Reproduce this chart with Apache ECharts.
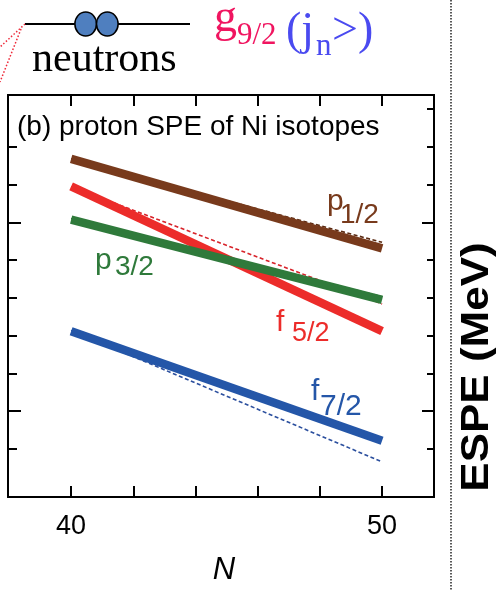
<!DOCTYPE html>
<html><head><meta charset="utf-8">
<script src="https://cdn.jsdelivr.net/npm/echarts@6/dist/echarts.min.js"></script>
<style>html,body{margin:0;padding:0;background:#fff;overflow:hidden}#c{width:499px;height:591px}</style>
</head><body><div id="c"></div>
<script>
// ---- data (neutron number N vs proton ESPE in MeV) ----
const N = [40, 50];
const p12 = [-3.32, -5.69];
const p12Dash = [-3.32, -5.53];
const f52 = [-4.05, -7.88];
const f52Dash = [-4.06, -7.16];
const p32 = [-4.93, -7.05];
const p32Dash = [-4.90, -6.97];
const f72 = [-7.88, -10.78];
const f72Dash = [-7.86, -11.34];
const xTicks = [40, 42, 44, 46, 48, 50];
const xLabels = [40, 50];
const yMinorLeft = [-3, -4, -6, -7, -8, -9, -11];
const yMinorRight = [-2, -3, -4, -6, -7, -8, -9, -11];
const yMajor = [-5, -10];

const SANS = '"Liberation Sans", Arial, Helvetica, sans-serif';
const SERIF = '"Liberation Serif", "Times New Roman", serif';
const X_MIN = 37.97, X_MAX = 51.67, Y_MIN = -12.27, Y_MAX = -1.63;

const pairs = (ys) => N.map((n, i) => [n, ys[i]]);

function yAxisCfg(pos, len, vals) {
  return {
    type: 'value', position: pos, min: Y_MIN, max: Y_MAX,
    axisLine: { show: true, lineStyle: { color: '#000', width: 2 } },
    axisTick: { show: true, inside: true, length: len, lineStyle: { color: '#000', width: 2 }, customValues: vals },
    axisLabel: { show: false }, splitLine: { show: false }
  };
}

const chart = echarts.init(document.getElementById('c'), null, { renderer: 'canvas' });

function solid(name, ys, color) {
  return { name, type: 'line', data: pairs(ys), symbol: 'none', animation: false,
    lineStyle: { color, width: 8.5, cap: 'butt' }, z: 3 };
}
function dashed(name, ys, color) {
  return { name, type: 'line', data: pairs(ys), symbol: 'none', animation: false,
    lineStyle: { color, width: 1.6, type: [4, 2.5] }, z: 2 };
}

function txt(x, base, s, size, color, family, extra) {
  return Object.assign({
    type: 'text', x: x, y: base - 0.35 * size, z: 10,
    style: { text: s, fill: color, font: size + 'px ' + family, align: 'left', verticalAlign: 'middle' }
  }, extra || {});
}

const option = {
  animation: false,
  backgroundColor: '#fff',
  grid: { left: 8, right: 65, top: 95, bottom: 93, containLabel: false },
  xAxis: [
    { type: 'value', position: 'bottom', min: X_MIN, max: X_MAX,
      axisLine: { show: true, lineStyle: { color: '#000', width: 2 } },
      axisTick: { show: true, inside: true, length: 11, lineStyle: { color: '#000', width: 2 }, customValues: xTicks },
      axisLabel: { show: true, customValues: xLabels, color: '#000', fontSize: 27, fontFamily: SANS, margin: 16 },
      splitLine: { show: false },
      name: 'N', nameLocation: 'middle', nameGap: 58,
      nameTextStyle: { color: '#000', fontSize: 31, fontStyle: 'italic', fontFamily: SANS, padding: [0, 0, 0, 6] } },
    { type: 'value', position: 'top', min: X_MIN, max: X_MAX,
      axisLine: { show: true, lineStyle: { color: '#000', width: 2 } },
      axisTick: { show: true, inside: true, length: 11, lineStyle: { color: '#000', width: 2 }, customValues: xTicks },
      axisLabel: { show: false }, splitLine: { show: false } }
  ],
  yAxis: [
    yAxisCfg('left', 9, yMinorLeft),
    yAxisCfg('left', 13, yMajor),
    yAxisCfg('right', 7, yMinorRight),
    yAxisCfg('right', 12, yMajor)
  ],
  series: [
    dashed('p1/2 dashed', p12Dash, '#5a2a12'),
    dashed('f5/2 dashed', f52Dash, '#d8232a'),
    dashed('p3/2 dashed', p32Dash, '#2a6a34'),
    dashed('f7/2 dashed', f72Dash, '#2b4f9e'),
    solid('p1/2', p12, '#783a1c'),
    solid('f5/2', f52, '#ec2c2a'),
    solid('p3/2', p32, '#2f7a3b'),
    solid('f7/2', f72, '#2456a8')
  ],
  graphic: { elements: [
    // top decoration: neutron level
    { type: 'line', shape: { x1: 25, y1: 24, x2: 190, y2: 24 }, style: { stroke: '#000', lineWidth: 2 }, z: 5 },
    { type: 'circle', shape: { cx: 0, cy: 0, r: 12 }, x: 85.7, y: 24, scaleX: 0.9, style: { fill: '#4f7fbf', stroke: '#000', lineWidth: 1.7 }, z: 6 },
    { type: 'circle', shape: { cx: 0, cy: 0, r: 12 }, x: 107.3, y: 24, scaleX: 0.9, style: { fill: '#4f7fbf', stroke: '#000', lineWidth: 1.7 }, z: 7 },
    { type: 'line', shape: { x1: 25, y1: 24, x2: 0, y2: 47 }, style: { stroke: '#ee2a3a', lineWidth: 1.5, lineDash: [1.5, 2] }, z: 5 },
    { type: 'line', shape: { x1: 21, y1: 29, x2: 0, y2: 82 }, style: { stroke: '#ee2a3a', lineWidth: 1.5, lineDash: [1.5, 2] }, z: 5 },
    txt(32, 75, 'neutrons', 42, '#000', SERIF),
    txt(214, 35, 'g', 46, '#f01560', SERIF),
    txt(237, 47, '9/2', 31, '#f01560', SERIF),
    txt(286, 48, '(j', 46, '#4a4af0', SERIF),
    txt(316, 58, 'n', 31, '#4a4af0', SERIF),
    txt(332, 48, '>)', 46, '#4a4af0', SERIF),
    // vertical dotted separator and cropped axis title
    { type: 'line', shape: { x1: 451, y1: 0, x2: 451, y2: 591 }, style: { stroke: '#222', lineWidth: 1.5, lineDash: [1.5, 1.5] }, z: 5 },
    { type: 'text', x: 477, y: 367, rotation: Math.PI / 2, scaleY: 0.88, z: 10,
      style: { text: 'ESPE (MeV)', fill: '#000', font: 'bold 44px ' + SANS, align: 'center', verticalAlign: 'middle' } },
    // panel title
    txt(17, 137, '(b) proton SPE of Ni isotopes', 28, '#000', SANS),
    // line labels
    txt(327, 212, 'p', 30, '#783a1c', SANS),
    txt(340, 225, '1/2', 28, '#783a1c', SANS),
    txt(95, 271, 'p', 30, '#2f7a3b', SANS),
    txt(115, 277, '3/2', 28, '#2f7a3b', SANS),
    txt(276, 333, 'f', 30, '#ec2c2a', SANS),
    txt(292, 343, '5/2', 27, '#ec2c2a', SANS),
    txt(311, 402, 'f', 30, '#2456a8', SANS),
    txt(320, 417, '7/2', 30, '#2456a8', SANS)
  ] }
};
chart.setOption(option);
</script>
</body></html>
